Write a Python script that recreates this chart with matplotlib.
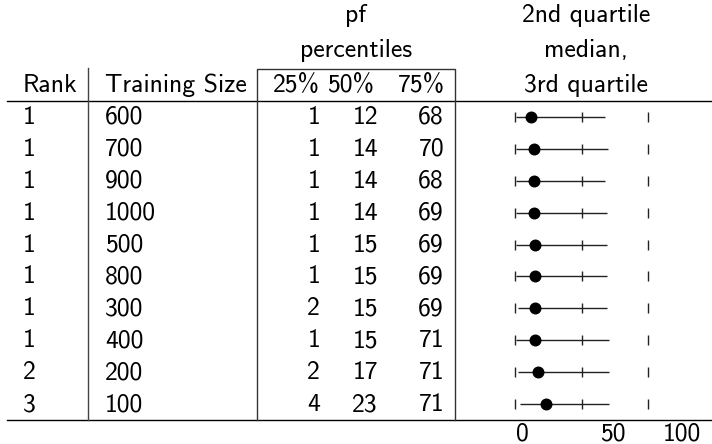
import matplotlib
matplotlib.use("Agg")
import matplotlib.pyplot as plt
import numpy as np

plt.rcParams['font.family'] = ['cmss10', 'DejaVu Sans']

# table data (one row per treatment, already ranked)
ranks = [1, 1, 1, 1, 1, 1, 1, 1, 2, 3]
sizes = [600, 700, 900, 1000, 500, 800, 300, 400, 200, 100]
p25 = [1, 1, 1, 1, 1, 1, 2, 1, 2, 4]
p50 = [12, 14, 14, 14, 15, 15, 15, 15, 17, 23]
p75 = [68, 70, 68, 69, 69, 69, 69, 71, 71, 71]
axis_labels = ["0", "50", "100"]

W, H = 712, 444
fig = plt.figure(figsize=(W / 100, H / 100), dpi=100)

# layout axes in pixel units
ax = fig.add_axes([0, 0, 1, 1])
ax.set_xlim(0, W)
ax.set_ylim(H, 0)
ax.axis('off')

fs = 18.5
top_line, bot_line = 101, 420
n = len(ranks)
row_h = (bot_line - top_line) / n

# header
ax.text(356, 22, "pf", ha='center', va='baseline', fontsize=fs)
ax.text(356, 57, "percentiles", ha='center', va='baseline', fontsize=fs)
ax.text(23, 92, "Rank", ha='left', va='baseline', fontsize=fs)
ax.text(105, 92, "Training Size", ha='left', va='baseline', fontsize=fs)
ax.text(320, 92, "25%", ha='right', va='baseline', fontsize=fs)
ax.text(374, 92, "50%", ha='right', va='baseline', fontsize=fs)
ax.text(445, 92, "75%", ha='right', va='baseline', fontsize=fs)
ax.text(586, 22, "2nd quartile", ha='center', va='baseline', fontsize=fs)
ax.text(586, 57, "median,", ha='center', va='baseline', fontsize=fs)
ax.text(586, 92, "3rd quartile", ha='center', va='baseline', fontsize=fs)

# rules
ax.plot([7, W], [top_line, top_line], color='black', lw=1)
ax.plot([7, W], [bot_line, bot_line], color='black', lw=1)
ax.plot([88, 88], [68, bot_line], color='#444444', lw=1)
ax.plot([257, 257, 455, 455], [bot_line, 69, 69, bot_line], color='#333333', lw=1)

# rows
for i in range(n):
    yb = top_line + row_h * (i + 0.5) + 7
    ax.text(23, yb, str(ranks[i]), ha='left', va='baseline', fontsize=fs)
    ax.text(105, yb, str(sizes[i]), ha='left', va='baseline', fontsize=fs)
    ax.text(320, yb, str(p25[i]), ha='right', va='baseline', fontsize=fs)
    ax.text(378, yb, str(p50[i]), ha='right', va='baseline', fontsize=fs)
    ax.text(444, yb, str(p75[i]), ha='right', va='baseline', fontsize=fs)

# scale labels under the quartile column
for lab, x in zip(axis_labels, [522, 613, 682]):
    ax.text(x, 440, lab, ha='center', va='baseline', fontsize=fs)

# quartile plot axes: 0..100 mapped onto the right column
px = fig.add_axes([515 / W, (H - bot_line) / H, 133 / W, (bot_line - top_line) / H])
px.set_xlim(0, 100)
px.set_ylim(n - 0.5, -0.5)
px.axis('off')
rows = np.arange(n)
px.hlines(rows, p25, p75, color='#222222', lw=1)
for x in [0, 50, 100]:
    px.plot(np.full(n, x), rows, ls='none', marker='|', ms=7.3, mew=1,
            color='#222222', clip_on=False)
px.plot(p50, rows, 'o', ms=7.6, color='black', clip_on=False)

fig.savefig("out.png", dpi=100)
